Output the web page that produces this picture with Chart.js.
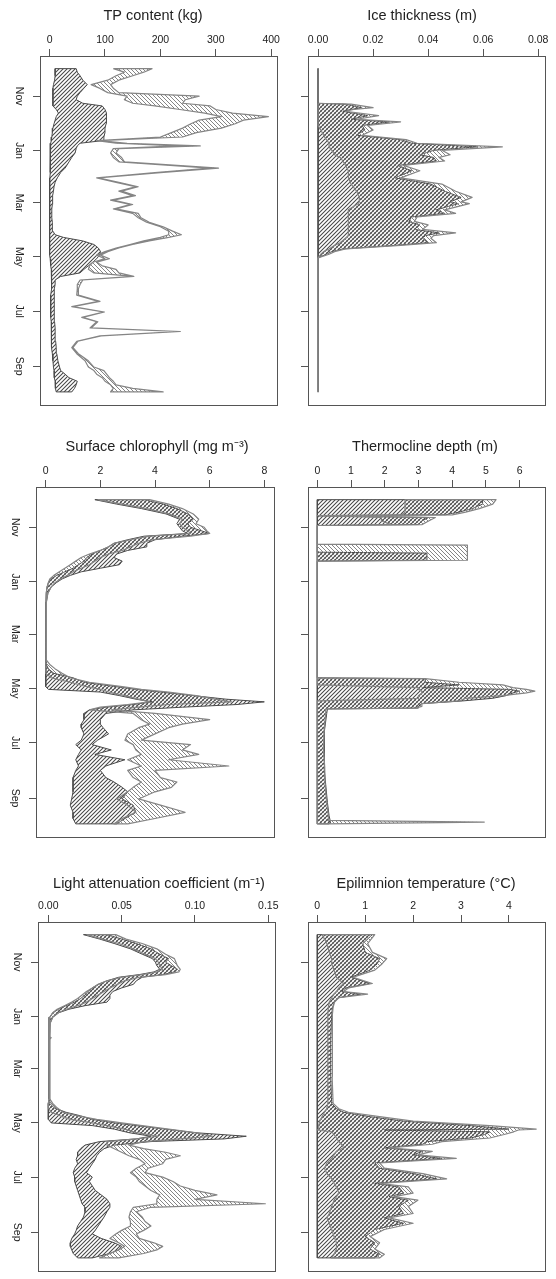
<!DOCTYPE html>
<html>
<head>
<meta charset="utf-8">
<script src="https://cdn.jsdelivr.net/npm/chart.js@4.4.1/dist/chart.umd.min.js"></script>
<style>
  html, body { margin: 0; padding: 0; background: #fff; overflow: hidden; }
  #page { position: relative; width: 556px; height: 1279px; overflow: hidden; }
  #page canvas { position: absolute; }
</style>
</head>
<body>
<div id="page"></div>
<script>
// time axis: day of the water year (0 = 1 Oct)
const monthDays = [31, 92, 151, 212, 273, 335];
const monthNames = ['Nov', 'Jan', 'Mar', 'May', 'Jul', 'Sep'];

// TP content (kg)
const tpDays = [0, 4, 8, 13, 18, 22, 27, 31, 35, 39, 42, 46, 50, 54, 58, 62, 67, 72, 77, 81,
  84, 87, 90, 95, 100, 105, 112, 117, 123, 128, 133, 138, 143, 148, 153, 158, 163, 168, 173, 178,
  183, 187, 190, 194, 198, 202, 206, 210, 214, 218, 222, 226, 230, 234, 238, 243, 248, 255, 262, 268,
  274, 280, 285, 292, 296, 301, 307, 314, 321, 329, 336, 340, 344, 348, 352, 356, 360, 364];
const tpLowA = [10, 10, 10, 9, 7, 6, 6, 6, 6, 6, 6, 12, 16, 12, 10, 8, 6, 5, 4, 3,
  2, 2, 1, 1, 1, 1, 1, 1, 0.5, 0.5, 0, 0, 0, 0, 0, 0, 0, 0, 0, 0,
  0, 0, 0, 0, 0, 0, 0, 0, 1, 2, 2, 3, 3, 4, 4, 4, 3, 2, 2, 2,
  2, 2, 3, 3, 3, 3, 4, 4, 5, 6, 7, 8, 8, 9, 10, 10, 11, 12];
const tpHighA = [48, 50, 55, 60, 68, 62, 55, 50, 48, 60, 95, 100, 102, 103, 103, 102, 100, 100, 98, 97,
  55, 50, 48, 46, 40, 35, 28, 20, 14, 10, 8, 7, 6, 5, 5, 4, 4, 4, 5, 5,
  6, 10, 25, 60, 80, 88, 92, 90, 85, 78, 70, 62, 55, 20, 10, 10, 9, 8, 8, 8,
  9, 9, 9, 10, 10, 10, 11, 12, 13, 15, 18, 20, 28, 35, 50, 48, 45, 40];
const tpLowB = [115, 135, 120, 105, 75, 90, 105, 140, 135, 150, 190, 235, 280, 310, 270, 255, 240, 220, 200, 85,
  120, 230, 115, 110, 115, 125, 290, 190, 85, 120, 155, 125, 150, 110, 145, 115, 150, 160, 175, 200,
  215, 215, 200, 170, 145, 120, 100, 85, 100, 78, 72, 70, 80, 150, 55, 50, 50, 49, 88, 40,
  97, 58, 85, 73, 230, 91, 49, 40, 49, 64, 70, 80, 85, 95, 100, 110, 115, 110];
const tpHighB = [185, 170, 150, 125, 110, 115, 125, 270, 245, 240, 290, 300, 330, 395, 350, 335, 310, 265, 240, 90,
  140, 272, 125, 120, 130, 135, 305, 200, 88, 125, 160, 130, 155, 115, 150, 120, 160, 165, 180, 205,
  222, 238, 215, 180, 150, 125, 105, 92, 108, 85, 95, 120, 125, 152, 60, 55, 52, 52, 91, 42,
  99, 60, 87, 75, 236, 93, 51, 42, 52, 70, 80, 98, 103, 108, 115, 120, 150, 205];

// Ice thickness (m)
const iceDays = [0, 39, 40, 44, 46, 48, 53, 57, 60, 64, 69, 75, 80, 84, 88, 92, 97, 100, 104, 109,
  115, 123, 130, 138, 145, 150, 152, 159, 163, 167, 172, 176, 181, 185, 188, 191, 196, 199, 203, 206,
  209, 213, 364];
const iceLowA = [0, 0, 0, 0, 0, 0, 0, 0, 0, 0, 0, 0, 0, 0, 0, 0, 0, 0, 0, 0,
  0, 0, 0, 0, 0, 0, 0, 0, 0, 0, 0, 0, 0, 0, 0, 0, 0, 0, 0, 0, 0, 0, 0];
const iceHighA = [0, 0, 0.010, 0.016, 0.012, 0.009, 0.018, 0.012, 0.026, 0.016, 0.017, 0.014, 0.030, 0.034, 0.058, 0.042, 0.037, 0.042, 0.043, 0.029,
  0.034, 0.028, 0.041, 0.046, 0.052, 0.048, 0.051, 0.043, 0.046, 0.034, 0.033, 0.037, 0.035, 0.044, 0.039, 0.038, 0.040, 0.028, 0.009, 0.005,
  0.003, 0, 0];
const iceLowB = [0, 0, 0, 0, 0, 0, 0, 0, 0, 0, 0.001, 0.002, 0.003, 0.004, 0.004, 0.005, 0.006, 0.008, 0.009, 0.010,
  0.011, 0.011, 0.012, 0.014, 0.015, 0.015, 0.0145, 0.011, 0.011, 0.011, 0.011, 0.011, 0.011, 0.011, 0.011, 0.010, 0.008, 0.006, 0.004, 0.002,
  0.001, 0, 0];
const iceHighB = [0, 0, 0.012, 0.020, 0.013, 0.010, 0.022, 0.014, 0.030, 0.018, 0.020, 0.016, 0.032, 0.036, 0.067, 0.045, 0.048, 0.044, 0.046, 0.031,
  0.037, 0.030, 0.045, 0.050, 0.056, 0.052, 0.055, 0.046, 0.050, 0.036, 0.035, 0.040, 0.038, 0.050, 0.042, 0.041, 0.043, 0.030, 0.010, 0.006,
  0.004, 0, 0];

// Surface chlorophyll (mg m-3)
const chlDays = [0, 5, 10, 16, 22, 27, 31, 35, 38, 41, 45, 49, 53, 57, 61, 65, 69, 73, 77, 81,
  85, 89, 93, 98, 105, 115, 140, 180, 185, 190, 195, 200, 205, 210, 213, 216, 220, 224, 227, 230,
  233, 236, 240, 247, 252, 256, 263, 270, 275, 281, 286, 292, 299, 304, 312, 317, 323, 328, 336, 343,
  351, 358, 364];
const chlLowA = [1.8, 2.6, 3.5, 4.4, 4.9, 4.8, 4.9, 5.0, 5.2, 3.6, 3.0, 2.5, 2.3, 2.0, 1.7, 1.5, 1.4, 1.2, 1.0, 0.7,
  0.4, 0.2, 0.1, 0.05, 0.02, 0.01, 0.01, 0.01, 0, 0, 0, 0, 0, 0, 0.1, 2.0, 2.7, 3.3, 3.9, 3.2,
  2.2, 1.6, 1.4, 1.4, 1.3, 1.3, 1.4, 1.3, 1.1, 1.3, 1.2, 1.1, 1.2, 1.1, 1.0, 1.0, 1.0, 1.0, 0.95, 0.9,
  1.0, 1.0, 1.1];
const chlHighA = [3.6, 4.3, 4.8, 5.2, 5.4, 5.2, 5.3, 5.7, 6.0, 5.0, 4.0, 3.7, 3.7, 3.0, 2.6, 2.5, 2.8, 2.7, 2.0, 1.3,
  0.9, 0.6, 0.4, 0.2, 0.08, 0.03, 0.02, 0.02, 0.02, 0.1, 0.3, 1.0, 1.4, 2.6, 3.3, 4.2, 5.4, 6.6, 8.0, 7.0,
  5.0, 3.2, 2.2, 2.0, 2.0, 2.1, 2.3, 1.9, 1.7, 2.4, 1.8, 2.9, 2.2, 2.0, 2.2, 2.5, 2.8, 3.0, 2.8, 3.2,
  3.3, 2.9, 2.6];
const chlLowB = [1.9, 2.8, 3.7, 4.5, 5.0, 4.9, 5.0, 5.2, 5.3, 3.8, 3.1, 2.5, 2.3, 2.0, 1.6, 1.3, 1.1, 0.9, 0.7, 0.5,
  0.3, 0.15, 0.1, 0.05, 0.02, 0.01, 0.01, 0.01, 0, 0, 0, 0.2, 0.9, 1.5, 2.0, 2.3, 2.9, 3.4, 3.8, 3.0,
  2.0, 1.6, 3.2, 3.5, 3.8, 3.4, 3.0, 2.9, 3.2, 3.3, 3.5, 3.0, 3.5, 3.0, 3.2, 3.5, 3.2, 3.0, 2.6, 3.0,
  3.3, 2.8, 2.5];
const chlHighB = [3.8, 4.5, 5.0, 5.4, 5.6, 5.5, 5.8, 5.9, 6.0, 5.3, 3.9, 3.4, 3.1, 2.8, 2.3, 2.0, 1.8, 1.6, 1.3, 1.0,
  0.8, 0.55, 0.35, 0.2, 0.08, 0.03, 0.02, 0.02, 0.15, 0.35, 0.6, 0.9, 1.6, 2.8, 3.5, 4.5, 5.5, 6.2, 6.8, 4.5,
  3.4, 2.4, 4.0, 6.0, 5.0, 4.5, 4.0, 3.5, 5.3, 5.0, 5.6, 4.5, 6.7, 4.0, 4.2, 4.8, 4.6, 4.0, 3.4, 4.2,
  5.1, 4.0, 3.0];

// Thermocline depth (m)
const thDays = [0, 5, 10, 14, 17, 18, 20, 24, 28, 29, 50, 51, 59, 60, 68, 69, 200, 201, 205, 208,
  211, 213, 215, 217, 220, 223, 226, 229, 232, 234, 235, 240, 260, 280, 300, 320, 340, 355, 360, 362, 364];
const thLowA = [0, 0, 0, 0, 0, 0, 0, 0, 0, 0, 0, 0, 0, 0, 0, 0, 0, 0, 0, 0,
  0, 0, 0, 0, 0, 0, 0, 0, 0, 0, 0, 0, 0, 0, 0, 0, 0, 0, 0, 0, 0];
const thHighA = [4.9, 4.9, 4.6, 4.2, 3.8, 0, 3.3, 3.1, 3.0, 0, 0, 0, 0, 3.25, 3.25, 0, 0, 3.2, 3.2, 4.2,
  3.1, 5.7, 6.0, 5.8, 5.6, 5.2, 4.3, 3.1, 3.0, 3.0, 0.3, 0.28, 0.22, 0.2, 0.2, 0.25, 0.3, 0.35, 0.38, 0.4, 0.35];
const thLowB = [2.6, 2.6, 2.6, 2.6, 2.5, 0, 1.9, 1.9, 2.2, 0, 0, 0, 0, 0, 0, 0, 0, 0, 0, 0,
  3.0, 3.0, 3.1, 3.1, 3.0, 3.0, 0, 0, 0, 0, 0, 0, 0, 0, 0, 0, 0, 0, 0, 0, 0];
const thHighB = [5.3, 5.2, 4.8, 4.4, 4.0, 0, 3.5, 3.3, 3.1, 0, 0, 4.45, 4.45, 4.45, 4.45, 0, 0, 3.2, 4.2, 5.5,
  5.8, 6.2, 6.45, 6.2, 5.5, 4.4, 4.2, 3.1, 3.1, 2.9, 0.25, 0.25, 0.2, 0.18, 0.22, 0.23, 0.28, 0.33, 0.33, 4.95, 0.3];

// Light attenuation coefficient (m-1)
const ltDays = [0, 5, 10, 16, 22, 27, 31, 35, 39, 42, 45, 48, 52, 56, 60, 64, 68, 72, 76, 80,
  84, 88, 93, 100, 115, 116, 118, 150, 185, 190, 195, 200, 204, 208, 212, 215, 219, 223, 227, 230,
  233, 237, 241, 245, 249, 253, 258, 263, 268, 273, 278, 283, 288, 293, 298, 303, 307, 312, 318, 323,
  328, 333, 337, 342, 347, 351, 355, 359, 364];
const ltLowA = [0.024, 0.035, 0.045, 0.056, 0.064, 0.071, 0.073, 0.074, 0.076, 0.072, 0.062, 0.048, 0.040, 0.034, 0.030, 0.027, 0.025, 0.022, 0.018, 0.012,
  0.007, 0.003, 0.001, 0.0005, 0.0005, 0.0005, 0.0005, 0.0005, 0.0005, 0, 0, 0, 0, 0, 0.002, 0.030, 0.045, 0.055, 0.070, 0.060,
  0.035, 0.025, 0.022, 0.020, 0.020, 0.019, 0.020, 0.018, 0.017, 0.018, 0.018, 0.019, 0.020, 0.021, 0.022, 0.023, 0.025, 0.025, 0.024, 0.022,
  0.020, 0.019, 0.018, 0.016, 0.015, 0.015, 0.016, 0.017, 0.020];
const ltHighA = [0.040, 0.050, 0.060, 0.070, 0.076, 0.082, 0.080, 0.084, 0.088, 0.086, 0.078, 0.064, 0.060, 0.058, 0.050, 0.044, 0.042, 0.042, 0.040, 0.025,
  0.014, 0.007, 0.003, 0.0012, 0.001, 0.001, 0.001, 0.001, 0.001, 0.001, 0.004, 0.012, 0.022, 0.030, 0.045, 0.060, 0.080, 0.100, 0.135, 0.120,
  0.070, 0.045, 0.038, 0.035, 0.033, 0.032, 0.030, 0.028, 0.026, 0.030, 0.028, 0.030, 0.032, 0.036, 0.040, 0.042, 0.042, 0.040, 0.038, 0.036,
  0.034, 0.032, 0.030, 0.036, 0.045, 0.050, 0.048, 0.042, 0.030];
const ltLowB = [0.026, 0.037, 0.048, 0.058, 0.066, 0.073, 0.075, 0.076, 0.078, 0.074, 0.064, 0.050, 0.040, 0.034, 0.030, 0.026, 0.023, 0.020, 0.016, 0.011,
  0.006, 0.003, 0.001, 0.0005, 0.0005, 0.0005, 0.0005, 0.0005, 0.0005, 0, 0, 0.002, 0.008, 0.015, 0.030, 0.040, 0.052, 0.060, 0.075, 0.060,
  0.040, 0.040, 0.045, 0.050, 0.055, 0.062, 0.066, 0.060, 0.056, 0.060, 0.062, 0.066, 0.070, 0.076, 0.074, 0.074, 0.058, 0.056, 0.055, 0.056,
  0.056, 0.050, 0.046, 0.042, 0.048, 0.052, 0.048, 0.042, 0.035];
const ltHighB = [0.046, 0.053, 0.064, 0.074, 0.080, 0.086, 0.087, 0.088, 0.090, 0.089, 0.080, 0.062, 0.052, 0.047, 0.042, 0.038, 0.034, 0.030, 0.026, 0.020,
  0.012, 0.007, 0.003, 0.0012, 0.001, 0.002, 0.001, 0.001, 0.001, 0.003, 0.006, 0.010, 0.020, 0.033, 0.050, 0.064, 0.082, 0.100, 0.112, 0.090,
  0.065, 0.055, 0.065, 0.080, 0.090, 0.080, 0.078, 0.068, 0.066, 0.078, 0.085, 0.090, 0.100, 0.115, 0.100, 0.148, 0.070, 0.060, 0.064, 0.066,
  0.070, 0.065, 0.060, 0.062, 0.072, 0.078, 0.074, 0.065, 0.048];

// Epilimnion temperature (°C)
const tmDays = [0, 10, 20, 27, 33, 40, 48, 55, 60, 64, 67, 71, 76, 82, 90, 120, 160, 190, 196, 200,
  205, 210, 215, 219, 220, 222, 225, 229, 233, 236, 240, 244, 248, 252, 257, 263, 269, 275, 280, 284,
  291, 295, 299, 306, 314, 319, 325, 332, 340, 347, 354, 360, 364];
const tmLowA = [0, 0, 0, 0, 0, 0, 0, 0, 0, 0, 0, 0, 0, 0, 0, 0, 0, 0, 0, 0,
  0, 0, 0, 0, 0, 0, 0, 0, 0, 0, 0, 0, 0, 0, 0, 0, 0, 0, 0, 0,
  0, 0, 0, 0, 0, 0, 0, 0, 0, 0, 0, 0, 0];
const tmHighA = [1.15, 0.95, 1.0, 1.3, 1.25, 1.1, 0.7, 1.1, 0.6, 0.5, 0.9, 0.45, 0.35, 0.32, 0.3, 0.28, 0.28, 0.3, 0.4, 0.55,
  1.1, 1.8, 3.2, 4.0, 1.4, 3.6, 3.5, 3.2, 2.3, 2.2, 1.4, 2.2, 2.0, 2.6, 1.2, 1.3, 2.0, 2.5, 1.2, 1.7,
  1.8, 1.5, 1.9, 1.7, 1.8, 1.4, 1.8, 1.2, 1.0, 1.2, 1.1, 1.3, 1.2];
const tmLowB = [0.1, 0.2, 0.25, 0.3, 0.3, 0.35, 0.4, 0.55, 0.45, 0.4, 0.35, 0.3, 0.25, 0.23, 0.22, 0.22, 0.22, 0.22, 0.2, 0.15,
  0.1, 0.05, 0.03, 0.03, 0, 0.3, 0.35, 0.4, 0.45, 0.5, 0.55, 0.4, 0.35, 0.3, 0.2, 0.15, 0.2, 0.3, 0.35, 0.4,
  0.45, 0.4, 0.35, 0.3, 0.25, 0.2, 0.25, 0.3, 0.35, 0.4, 0.4, 0.35, 0.3];
const tmHighB = [1.2, 1.05, 1.15, 1.45, 1.35, 1.2, 0.75, 1.15, 0.65, 0.55, 1.05, 0.45, 0.36, 0.33, 0.32, 0.31, 0.31, 0.33, 0.45, 0.65,
  1.3, 2.0, 3.6, 4.57, 4.2, 4.1, 3.9, 3.6, 2.6, 2.4, 1.5, 2.4, 2.1, 2.9, 1.3, 1.4, 2.2, 2.7, 1.3, 1.9,
  2.0, 1.6, 2.1, 1.9, 2.0, 1.5, 2.0, 1.4, 1.1, 1.3, 1.2, 1.4, 1.3];

const FONT = "'Liberation Sans', Arial, Helvetica, sans-serif";

function hatch(dir, color, size, width) {
  const c = document.createElement('canvas');
  c.width = size;
  c.height = size;
  const g = c.getContext('2d');
  g.strokeStyle = color;
  g.lineWidth = width;
  g.beginPath();
  if (dir > 0) {
    g.moveTo(0, size); g.lineTo(size, 0);
    g.moveTo(-1, 1); g.lineTo(1, -1);
    g.moveTo(size - 1, size + 1); g.lineTo(size + 1, size - 1);
  } else {
    g.moveTo(0, 0); g.lineTo(size, size);
    g.moveTo(-1, size - 1); g.lineTo(1, size + 1);
    g.moveTo(size - 1, -1); g.lineTo(size + 1, 1);
  }
  g.stroke();
  return g.createPattern(c, 'repeat');
}

const hatchA = hatch(1, '#474747', 4, 1.05);
const hatchB = hatch(-1, '#858585', 4, 1);

// closed polygon: lower curve down, upper curve back up
function ribbon(days, low, high) {
  const pts = days.map((d, i) => ({x: low[i], y: d}));
  for (let i = days.length - 1; i >= 0; i--) pts.push({x: high[i], y: days[i]});
  pts.push({x: low[0], y: days[0]});
  return pts;
}

const frame = {
  id: 'frame',
  afterDraw(chart) {
    const {ctx, chartArea: a} = chart;
    ctx.save();
    ctx.strokeStyle = '#555';
    ctx.lineWidth = 1;
    const l = Math.round(a.left) - 0.5, t = Math.round(a.top) - 0.5;
    ctx.strokeRect(l, t, Math.round(a.right) - Math.round(a.left) + 1, Math.round(a.bottom) - Math.round(a.top) + 1);
    ctx.restore();
  }
};

const panels = [
  {title: 'TP content (kg)', box: [41, 57, 277, 412], head: [153, 16], xr: [-15.5, 410.5],
    ticks: [0, 100, 200, 300, 400], digits: 0, months: true, days: tpDays, a: [tpLowA, tpHighA], b: [tpLowB, tpHighB]},
  {title: 'Ice thickness (m)', box: [309, 57, 545, 412], head: [422, 16], xr: [-0.0033, 0.0825],
    ticks: [0, 0.02, 0.04, 0.06, 0.08], digits: 2, months: false, days: iceDays, a: [iceLowA, iceHighA], b: [iceLowB, iceHighB]},
  {title: 'Surface chlorophyll (mg m\u207B\u00B3)', box: [37, 488, 274, 844], head: [157, 447], xr: [-0.318, 8.354],
    ticks: [0, 2, 4, 6, 8], digits: 0, months: true, days: chlDays, a: [chlLowA, chlHighA], b: [chlLowB, chlHighB]},
  {title: 'Thermocline depth (m)', box: [309, 488, 545, 844], head: [425, 447], xr: [-0.246, 6.75],
    ticks: [0, 1, 2, 3, 4, 5, 6], digits: 0, months: false, days: thDays, a: [thLowA, thHighA], b: [thLowB, thHighB]},
  {title: 'Light attenuation coefficient (m\u207B\u00B9)', box: [39, 923, 275, 1278], head: [159, 884], xr: [-0.00634, 0.15457],
    ticks: [0, 0.05, 0.10, 0.15], digits: 2, months: true, days: ltDays, a: [ltLowA, ltHighA], b: [ltLowB, ltHighB]},
  {title: 'Epilimnion temperature (\u00B0C)', box: [309, 923, 545, 1278], head: [426, 884], xr: [-0.173, 4.753],
    ticks: [0, 1, 2, 3, 4], digits: 0, months: false, days: tmDays, a: [tmLowA, tmHighA], b: [tmLowB, tmHighB]}
];

const page = document.getElementById('page');

panels.forEach(p => {
  const [bl, bt, br, bb] = p.box;
  const left = bl - 40;
  const top = p.head[1] - 9;
  const width = Math.round(2 * (p.head[0] - left));
  const height = bb - top + 3;
  const xh = bt - top - 18;
  const pr = width - 40 - (br - bl);

  const cv = document.createElement('canvas');
  cv.width = width;
  cv.height = height;
  cv.style.left = left + 'px';
  cv.style.top = top + 'px';
  page.appendChild(cv);

  const line = {showLine: true, fill: 'shape', pointRadius: 0, tension: 0, borderJoinStyle: 'round'};

  new Chart(cv, {
    type: 'scatter',
    data: {
      datasets: [
        {...line, data: ribbon(p.days, p.b[0], p.b[1]), backgroundColor: hatchB, borderColor: '#858585', borderWidth: 1.2},
        {...line, data: ribbon(p.days, p.a[0], p.a[1]), backgroundColor: hatchA, borderColor: '#4a4a4a', borderWidth: 1}
      ]
    },
    options: {
      responsive: false,
      animation: false,
      events: [],
      layout: {padding: {top: 0, left: 0, right: 0, bottom: 3}},
      plugins: {
        legend: {display: false},
        tooltip: {enabled: false},
        title: {
          display: true, text: p.title, padding: 0, color: '#222',
          font: {family: FONT, size: 14.5, weight: 'normal', lineHeight: '18px'}
        }
      },
      scales: {
        x: {
          type: 'linear', position: 'top', min: p.xr[0], max: p.xr[1],
          afterFit: s => { s.height = xh; },
          afterBuildTicks: s => { s.ticks = p.ticks.map(v => ({value: v})); },
          ticks: {
            callback: v => v.toFixed(p.digits), padding: 3, color: '#222',
            maxRotation: 0, autoSkip: false, font: {family: FONT, size: 10.5}
          },
          grid: {drawOnChartArea: false, tickLength: 8, color: '#555'},
          border: {display: false}
        },
        y: {
          type: 'linear', position: 'left', reverse: true, min: -13.1, max: 378.4,
          afterFit: s => { s.width = 40; },
          afterBuildTicks: s => { s.ticks = monthDays.map(v => ({value: v})); },
          ticks: {
            callback: (v, i) => p.months ? monthNames[i] : '',
            minRotation: -90, maxRotation: -90, crossAlign: 'center', padding: 4,
            autoSkip: false, color: '#222', font: {family: FONT, size: 10.5}
          },
          grid: {drawOnChartArea: false, tickLength: 8, color: '#555'},
          border: {display: false}
        },
        side: {
          type: 'linear', position: 'right', display: true,
          ticks: {display: false}, grid: {display: false}, border: {display: false},
          afterFit: s => { s.width = pr; }
        }
      }
    },
    plugins: [frame]
  });
});
</script>
</body>
</html>
